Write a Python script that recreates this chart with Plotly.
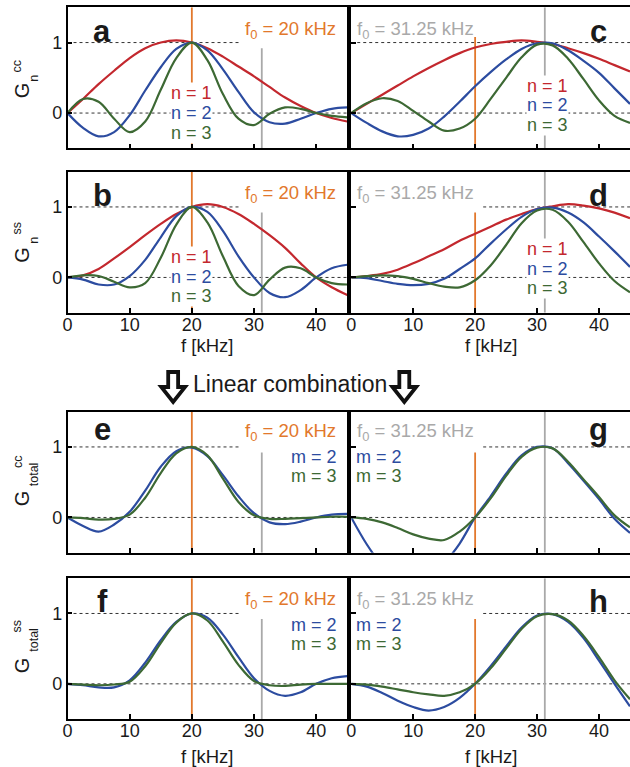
import plotly.graph_objects as go

# ---------------- data ----------------
F = [0, 2.5, 5, 7.5, 10, 12.5, 15, 17.5, 20, 22.5, 25, 27.5, 30, 32.5, 35, 37.5, 40, 42.5, 45]

# panel a : G_n^cc, f0 = 20 kHz
A_N1 = [0, 0.2, 0.41, 0.6, 0.78, 0.92, 1.0, 1.03, 1.0, 0.92, 0.8, 0.66, 0.52, 0.37, 0.22, 0.1, 0.0, -0.07, -0.12]
A_N2 = [0, -0.21, -0.33, -0.27, -0.03, 0.32, 0.65, 0.91, 1.0, 0.89, 0.62, 0.3, 0.01, -0.13, -0.15, -0.08, 0.0, 0.06, 0.08]
A_N3 = [0, 0.2, 0.16, -0.08, -0.27, -0.12, 0.33, 0.78, 1.0, 0.75, 0.27, -0.08, -0.17, -0.01, 0.08, 0.06, 0.0, -0.04, -0.06]
# panel b : G_n^ss, f0 = 20 kHz
B_N1 = [0, 0.03, 0.12, 0.27, 0.43, 0.6, 0.76, 0.9, 1.0, 1.04, 1.0, 0.9, 0.76, 0.6, 0.42, 0.2, 0.0, -0.14, -0.25]
B_N2 = [0, -0.03, -0.1, -0.1, 0.02, 0.25, 0.57, 0.87, 1.0, 0.93, 0.66, 0.3, 0.0, -0.22, -0.28, -0.18, 0.0, 0.13, 0.18]
B_N3 = [0, 0.03, 0.02, -0.06, -0.14, -0.08, 0.28, 0.75, 1.0, 0.78, 0.3, -0.12, -0.25, -0.03, 0.14, 0.13, 0.0, -0.08, -0.1]
# panel c : G_n^cc, f0 = 31.25 kHz
C_N1 = [0, 0.13, 0.26, 0.39, 0.52, 0.64, 0.75, 0.85, 0.93, 0.98, 1.01, 1.03, 1.01, 0.98, 0.92, 0.85, 0.77, 0.68, 0.59]
C_N2 = [0, -0.14, -0.26, -0.33, -0.31, -0.22, -0.05, 0.16, 0.38, 0.58, 0.76, 0.91, 0.99, 0.99, 0.89, 0.74, 0.57, 0.35, 0.13]
C_N3 = [0, 0.14, 0.21, 0.17, 0.03, -0.12, -0.25, -0.22, -0.08, 0.2, 0.5, 0.79, 0.97, 0.96, 0.77, 0.48, 0.18, -0.04, -0.14]
# panel d : G_n^ss, f0 = 31.25 kHz
D_N1 = [0, 0.02, 0.05, 0.11, 0.2, 0.3, 0.4, 0.52, 0.62, 0.72, 0.82, 0.9, 0.97, 1.01, 1.04, 1.02, 0.98, 0.92, 0.84]
D_N2 = [0, -0.01, -0.05, -0.09, -0.11, -0.09, -0.02, 0.12, 0.27, 0.48, 0.68, 0.86, 0.97, 0.99, 0.92, 0.78, 0.58, 0.37, 0.15]
D_N3 = [0, 0.02, 0.03, 0.02, -0.02, -0.08, -0.13, -0.14, -0.04, 0.17, 0.46, 0.77, 0.95, 0.96, 0.79, 0.5, 0.2, -0.05, -0.21]
# panel e : G_total^cc, f0 = 20 kHz
E_M2 = [0, -0.12, -0.2, -0.1, 0.08, 0.38, 0.72, 0.94, 0.99, 0.87, 0.6, 0.3, 0.06, -0.07, -0.095, -0.06, 0.0, 0.04, 0.05]
E_M3 = [0, -0.01, -0.03, -0.02, 0.04, 0.28, 0.63, 0.91, 1.0, 0.88, 0.55, 0.22, 0.03, -0.02, -0.02, -0.01, 0.0, 0.01, 0.01]
# panel f : G_total^ss, f0 = 20 kHz
F_M2 = [0, -0.02, -0.05, -0.05, 0.05, 0.3, 0.62, 0.88, 1.0, 0.94, 0.7, 0.38, 0.08, -0.1, -0.17, -0.12, 0.0, 0.08, 0.11]
F_M3 = [0, -0.01, -0.02, -0.01, 0.03, 0.25, 0.58, 0.87, 1.0, 0.9, 0.6, 0.27, 0.04, -0.02, -0.03, -0.01, 0.0, 0.0, 0.0]
# panel g : G_total^cc, f0 = 31.25 kHz
G_M2 = [0, -0.38, -0.68, -0.88, -0.93, -0.85, -0.65, -0.37, 0.0, 0.3, 0.62, 0.88, 1.0, 0.98, 0.77, 0.52, 0.26, -0.02, -0.22]
G_M3 = [0, -0.02, -0.07, -0.15, -0.24, -0.3, -0.32, -0.2, 0.0, 0.27, 0.59, 0.86, 0.99, 0.98, 0.79, 0.54, 0.29, 0.03, -0.14]
# panel h : G_total^ss, f0 = 31.25 kHz
H_M2 = [0, -0.04, -0.13, -0.24, -0.33, -0.38, -0.33, -0.2, 0.0, 0.25, 0.53, 0.8, 0.97, 0.99, 0.88, 0.65, 0.33, 0.0, -0.32]
H_M3 = [0, -0.01, -0.04, -0.08, -0.12, -0.15, -0.17, -0.12, 0.0, 0.22, 0.5, 0.78, 0.96, 0.99, 0.9, 0.68, 0.38, 0.05, -0.22]

F0_LOW = 20.0
F0_HIGH = 31.25
XTICKS = [0, 10, 20, 30, 40]
YTICKS = [0, 1]
YTICKTEXT = ["0", "1"]
N_LABELS = ["n = 1", "n = 2", "n = 3"]
M_LABELS = ["m = 2", "m = 3"]

# ---------------- style ----------------
W, H = 630, 767
FONT = "Liberation Sans, Arial, Helvetica, sans-serif"
RED = "#c3282e"
BLUE = "#2c4ca0"
GREEN = "#3d6934"
ORANGE = "#e2782c"
GRAY = "#a9a9a9"
TXT = "#1a1a1a"
LBL = 18

COLS = [(63, 345), (349, 630)]
ROWS = [(7.3, 148.3), (171.7, 312.7), (411.7, 552.7), (578.3, 719.0)]


def px(x, y):
    return x / W, 1 - y / H


panels = [
    dict(letter="a", row=0, col=0, ser=[(A_N1, RED), (A_N2, BLUE), (A_N3, GREEN)], kind="n"),
    dict(letter="c", row=0, col=1, ser=[(C_N1, RED), (C_N2, BLUE), (C_N3, GREEN)], kind="n"),
    dict(letter="b", row=1, col=0, ser=[(B_N1, RED), (B_N2, BLUE), (B_N3, GREEN)], kind="n"),
    dict(letter="d", row=1, col=1, ser=[(D_N1, RED), (D_N2, BLUE), (D_N3, GREEN)], kind="n"),
    dict(letter="e", row=2, col=0, ser=[(E_M2, BLUE), (E_M3, GREEN)], kind="m"),
    dict(letter="g", row=2, col=1, ser=[(G_M2, BLUE), (G_M3, GREEN)], kind="m"),
    dict(letter="f", row=3, col=0, ser=[(F_M2, BLUE), (F_M3, GREEN)], kind="m"),
    dict(letter="h", row=3, col=1, ser=[(H_M2, BLUE), (H_M3, GREEN)], kind="m"),
]

fig = go.Figure()
layout = {}
shapes = []
annotations = []

for k, p in enumerate(panels, start=1):
    xa = "x" if k == 1 else f"x{k}"
    ya = "y" if k == 1 else f"y{k}"
    sfx = "" if k == 1 else str(k)
    r, c = p["row"], p["col"]
    x0, x1 = COLS[c]
    y0, y1 = ROWS[r]
    show_x = r in (1, 3)
    layout[f"xaxis{sfx}"] = dict(
        domain=[x0 / W, x1 / W], range=[0, 45], anchor=ya,
        showline=True, linecolor="black", linewidth=1.5, mirror=True,
        ticks="inside", ticklen=5, tickwidth=1.5, tickcolor="black",
        tickvals=XTICKS, showticklabels=show_x, ticklabelstandoff=-5,
        tickfont=dict(size=18, color=TXT, family=FONT),
        showgrid=False, zeroline=False, fixedrange=True,
    )
    layout[f"yaxis{sfx}"] = dict(
        domain=[1 - y1 / H, 1 - y0 / H], range=[-0.5, 1.5], anchor=xa,
        showline=True, linecolor="black", linewidth=1.5, mirror=(c == 0),
        ticks="inside", ticklen=5, tickwidth=1.5, tickcolor="black",
        tickvals=YTICKS, ticktext=YTICKTEXT, showticklabels=(c == 0),
        tickfont=dict(size=18, color=TXT, family=FONT),
        showgrid=False, zeroline=False, fixedrange=True,
    )

    # reference lines
    left = (c == 0)
    one_ext = [0, 27.7] if left else ([0, 45] if r == 0 else [21.3, 45])
    dot = dict(color="#333333", width=1, dash="dot")
    shapes.append(dict(type="line", xref=xa, yref=ya, x0=0, x1=45, y0=0, y1=0, line=dot, layer="below"))
    shapes.append(dict(type="line", xref=xa, yref=ya, x0=one_ext[0], x1=one_ext[1], y0=1, y1=1, line=dot, layer="below"))
    if left:
        o_top, g_top = 1.5, 0.92
    else:
        o_top, g_top = (1.08 if r == 0 else 0.92), 1.5
    shapes.append(dict(type="line", xref=xa, yref=ya, x0=F0_LOW, x1=F0_LOW, y0=-0.5, y1=o_top,
                       line=dict(color=ORANGE, width=1.8), layer="below"))
    shapes.append(dict(type="line", xref=xa, yref=ya, x0=F0_HIGH, x1=F0_HIGH, y0=-0.5, y1=g_top,
                       line=dict(color=GRAY, width=1.8), layer="below"))

    for vals, col in p["ser"]:
        fig.add_trace(go.Scatter(x=F, y=vals, xaxis=xa, yaxis=ya, mode="lines",
                                 line=dict(color=col, width=2.2, shape="spline", smoothing=1.0),
                                 showlegend=False, hoverinfo="skip", cliponaxis=True))

    # panel letter
    lx = 98 if left else 598
    ly = {0: 31.5, 1: 195.5, 2: 429.5, 3: 601}[r]
    ax, ay = px(lx, ly)
    annotations.append(dict(text=f"<b>{p['letter']}</b>", x=ax, y=ay, xref="paper", yref="paper",
                            xanchor="center", yanchor="middle", showarrow=False,
                            font=dict(size=31, color=TXT, family=FONT)))

    # f0 label
    fy = {0: 30, 1: 194, 2: 432, 3: 600}[r]
    if left:
        fx, fx_anchor, ftxt, fcol = 336, "right", "f<sub>0</sub> = 20 kHz", ORANGE
    else:
        fx, fx_anchor, ftxt, fcol = 353, "left", "f<sub>0</sub> = 31.25 kHz", GRAY
    ax, ay = px(fx, fy)
    annotations.append(dict(text=ftxt, x=ax, y=ay, xref="paper", yref="paper",
                            xanchor=fx_anchor, yanchor="middle", showarrow=False,
                            font=dict(size=LBL + 0.5, color=fcol, family=FONT)))

    # series labels
    if p["kind"] == "n":
        cx = 188.4 if left else 547
        ys = {0: ([92.7, 113, 133], [86, 105.5, 125]), 1: ([256.7, 276.7, 295.7], [249, 268.5, 288])}[r][0 if left else 1]
        for lab, col, yy in zip(N_LABELS, [RED, BLUE, GREEN], ys):
            ax, ay = px(cx, yy)
            annotations.append(dict(text=lab, x=ax, y=ay, xref="paper", yref="paper",
                                    xanchor="center", yanchor="middle", showarrow=False,
                                    bgcolor="white", borderpad=0,
                                    font=dict(size=LBL, color=col, family=FONT)))
    else:
        ys = {2: [457, 476.5], 3: [624.5, 644]}[r]
        mx, manc = (336, "right") if left else (353, "left")
        for lab, col, yy in zip(M_LABELS, [BLUE, GREEN], ys):
            ax, ay = px(mx, yy)
            annotations.append(dict(text=lab, x=ax, y=ay, xref="paper", yref="paper",
                                    xanchor=manc, yanchor="middle", showarrow=False, borderpad=0,
                                    font=dict(size=LBL, color=col, family=FONT)))

# y-axis titles (G with stacked sub/superscripts)
ytitles = [
    (0, "n", "cc", 90, 78, 66),
    (1, "n", "ss", 254.5, 240, 228),
    (2, "total", "cc", 498, 474.5, 461.7),
    (3, "total", "ss", 665, 640, 626),
]
for r, sub, sup, gy, suby, supy in ytitles:
    for txt, xx, yy, sz in [("G", 17.5, gy, 20), (sub, 29, suby, 12.5), (sup, 12.5, supy, 12.5)]:
        ax, ay = px(xx, yy)
        annotations.append(dict(text=txt, x=ax, y=ay, xref="paper", yref="paper", textangle=-90,
                                xanchor="center", yanchor="middle", showarrow=False, borderpad=0,
                                font=dict(size=sz, color=TXT, family=FONT)))

# x-axis titles
for xx, yy in [(204, 345), (489.5, 345), (204, 756), (489.5, 756)]:
    ax, ay = px(xx, yy)
    annotations.append(dict(text="f [kHz]", x=ax, y=ay, xref="paper", yref="paper",
                            xanchor="center", yanchor="middle", showarrow=False, borderpad=0,
                            font=dict(size=18.5, color=TXT, family=FONT)))

# "Linear combination" with hollow arrows
ax, ay = px(287.5, 384)
annotations.append(dict(text="Linear combination", x=ax, y=ay, xref="paper", yref="paper",
                        xanchor="center", yanchor="middle", showarrow=False,
                        font=dict(size=23, color=TXT, family=FONT)))


def arrow_path(cx, top, bottom):
    mid = top + (bottom - top) * 0.5
    pts = [(cx - 5, top), (cx + 5, top), (cx + 5, mid), (cx + 12, mid), (cx, bottom),
           (cx - 12, mid), (cx - 5, mid)]
    s = ""
    for i, (x, y) in enumerate(pts):
        X, Y = px(x, y)
        s += ("M" if i == 0 else "L") + f"{X:.5f},{Y:.5f} "
    return s + "Z"


for cx in (169.5, 402.5):
    shapes.append(dict(type="path", xref="paper", yref="paper", path=arrow_path(cx, 372, 402),
                       line=dict(color="#111111", width=3.8), fillcolor="white", layer="above"))

fig.update_layout(
    width=W, height=H, margin=dict(l=0, r=0, t=0, b=0, pad=0),
    paper_bgcolor="white", plot_bgcolor="white",
    font=dict(family=FONT, color=TXT),
    shapes=shapes, annotations=annotations, showlegend=False,
    **layout,
)

fig.write_html("out.html")
